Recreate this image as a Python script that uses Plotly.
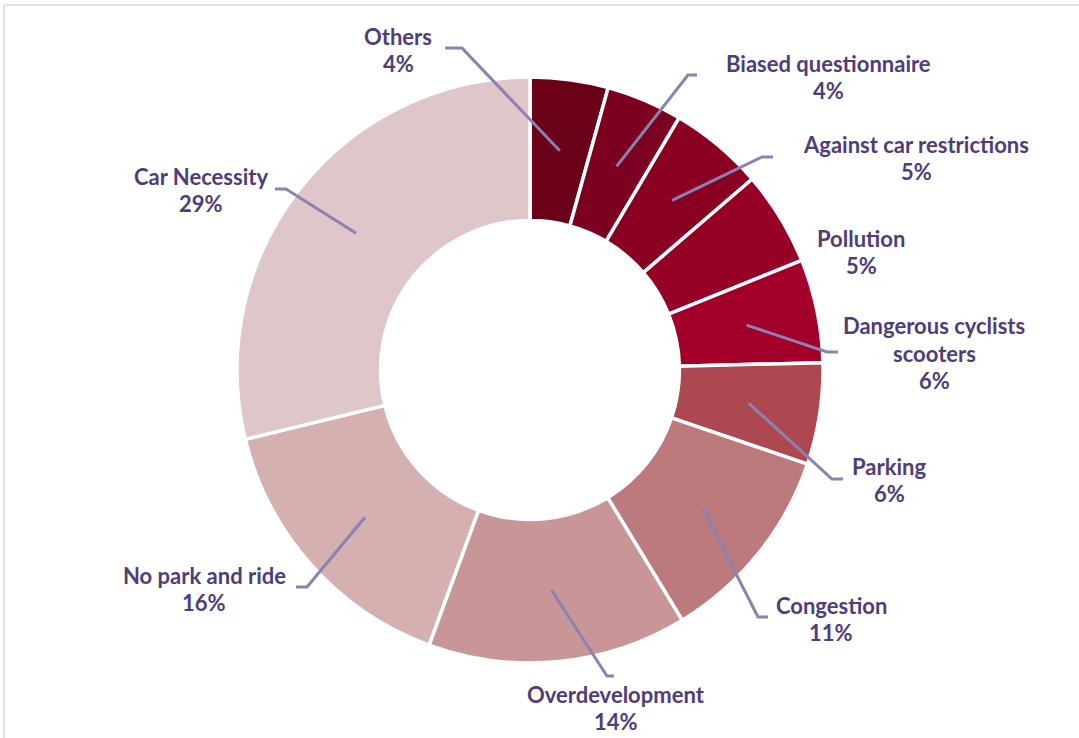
import math
import plotly.graph_objects as go

# shares of comments (percent), clockwise from 12 o'clock
categories = ["Others", "Biased questionnaire", "Against car restrictions", "Pollution",
              "Dangerous cyclists<br>scooters", "Parking", "Congestion", "Overdevelopment",
              "No park and ride", "Car Necessity"]
shares = [4.3, 4.2, 5.2, 5.2, 5.7, 5.6, 11.1, 14.3, 15.6, 28.8]
colors = ["#6B0019", "#7C0020", "#890023", "#960027", "#A2002B", "#AD4750",
          "#BC7A7C", "#C89697", "#D4B0B1", "#DFC7C9"]

# layout of the picture (pixels)
W, H = 1079, 738
cx, cy, r_out = 530, 370, 293
hole = 0.51
txt_col = "#4F3C7A"
lead_col = "#8A82B0"

# label centre (x, y) and leader elbow / end (None = no leader)
label_pos = [(398, 50), (828, 77), (916, 158), (861, 252), (934, 353),
             (889, 480), (831, 619), (616, 708), (204, 589), (201, 190)]
elbows = [((462, 48), (445, 48)), ((688, 75), (697, 75)), ((762, 157), (773, 157)), None,
          ((827, 352), (838, 352)), ((832, 479), (843, 479)), ((758, 617), (768, 617)),
          ((607, 676), (614, 676)), ((307, 587), (296, 587)), ((286, 189), (275, 189))]

fig = go.Figure()

fig.add_trace(go.Pie(
    labels=categories,
    values=shares,
    sort=False,
    direction="clockwise",
    rotation=0,
    hole=hole,
    textinfo="none",
    marker=dict(colors=colors, line=dict(color="white", width=3.5)),
    domain=dict(x=[(cx - r_out) / W, (cx + r_out) / W],
                y=[(H - cy - r_out) / H, (H - cy + r_out) / H]),
    showlegend=False,
    hoverinfo="label+percent",
))

# leader lines, starting mid-ring at each slice's mid-angle
total = sum(shares)
r_mid = r_out * (1 + hole) / 2
cum = 0
for i, v in enumerate(shares):
    mid = (cum + v / 2) / total * 2 * math.pi
    cum += v
    if elbows[i] is None:
        continue
    sx = cx + r_mid * math.sin(mid)
    sy = cy - r_mid * math.cos(mid)
    (ex, ey), (hx, hy) = elbows[i]
    fig.add_shape(
        type="path", xref="x", yref="y", layer="above",
        path=f"M {sx:.1f},{sy:.1f} L {ex},{ey} L {hx},{hy}",
        line=dict(color=lead_col, width=3),
    )

# labels: name lines + rounded percent, one annotation per line
line_h = 27.5
for i, name in enumerate(categories):
    lines = name.split("<br>") + [f"{round(shares[i] / total * 100)}%"]
    x0, yc = label_pos[i]
    top = yc - line_h * (len(lines) - 1) / 2
    for k, t in enumerate(lines):
        fig.add_annotation(
            x=x0, y=top + k * line_h, xref="x", yref="y", text=t, showarrow=False,
            font=dict(family="Lato, 'Open Sans', sans-serif", size=22, color=txt_col, weight="bold"),
            xanchor="center", yanchor="middle",
        )

# faint frame at top / left
fig.add_shape(type="line", xref="x", yref="y", x0=4, y0=5, x1=W, y1=5,
              line=dict(color="#DAD5E8", width=1.5))
fig.add_shape(type="line", xref="x", yref="y", x0=4, y0=5, x1=4, y1=H,
              line=dict(color="#DAD5E8", width=1.5))

fig.update_layout(
    width=W, height=H,
    margin=dict(l=0, r=0, t=0, b=0),
    paper_bgcolor="white", plot_bgcolor="rgba(0,0,0,0)",
    xaxis=dict(range=[0, W], visible=False, fixedrange=True),
    yaxis=dict(range=[H, 0], visible=False, fixedrange=True),
)

# drop the browser's default page margin so the figure sits at the window corner
fig.write_html("out.html", config={"displayModeBar": False},
               post_script="document.body.style.margin='0';")
